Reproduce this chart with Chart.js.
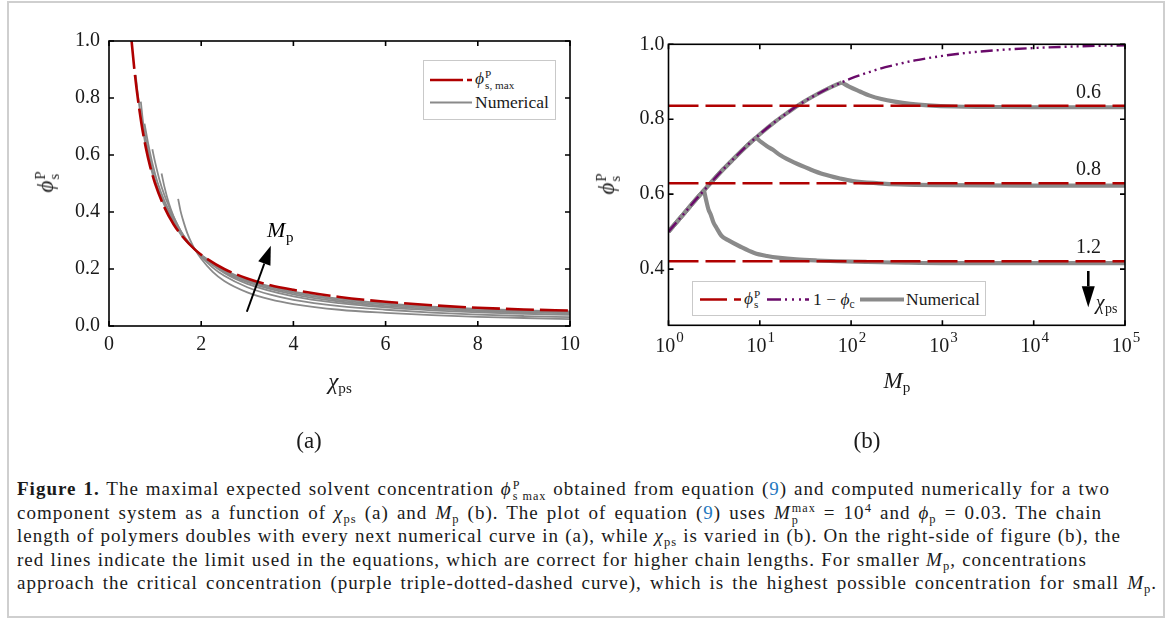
<!DOCTYPE html>
<html>
<head>
<meta charset="utf-8">
<script src="https://cdn.jsdelivr.net/npm/chart.js@4.4.1/dist/chart.umd.min.js"></script>
<style>
  html, body { margin: 0; padding: 0; background: #fff; }
  body { width: 1170px; height: 619px; position: relative; overflow: hidden; font-family: 'Liberation Serif', 'DejaVu Serif', serif; color: #1a1a1a; }
  .frame { position: absolute; left: 7px; top: 1px; width: 1158px; height: 617px; border: 2px solid #cfcfcf; box-sizing: border-box; }
  canvas { position: absolute; }
  #chartA { left: 0; top: 0; }
  #chartB { left: 590px; top: 0; }
  .lbl { position: absolute; white-space: nowrap; line-height: 1; transform: translate(-50%, -50%); }
  .rot { transform: translate(-50%, -50%) rotate(-90deg); }
  .ax { font-size: 23px; }
  .panel { font-size: 23px; }
  i { font-style: italic; }
  .sb { font-size: 66%; vertical-align: -0.28em; line-height: 0; }
  .sp { font-size: 66%; vertical-align: 0.55em; line-height: 0; }
  .ss { display: inline-block; vertical-align: -0.42em; font-size: 64%; line-height: 0.95; margin-left: 1px; }
  .ss span { display: block; }
  .legend { position: absolute; background: #fff; border: 1px solid #c9c9c9; box-sizing: border-box; font-size: 17.5px; }
  .legend .item { position: absolute; white-space: nowrap; line-height: 1; transform: translateY(-50%); }
  .legend svg { position: absolute; left: 0; top: 0; overflow: visible; }
  .caption { position: absolute; left: 17px; top: 0; font-size: 19px; letter-spacing: 1px; }
  .caption .ln { position: absolute; left: 0; white-space: nowrap; text-align: justify; text-align-last: justify; line-height: 20px; }
  .ref { color: #1f78c0; }
</style>
</head>
<body>
<div class="frame"></div>
<canvas id="chartA" width="600" height="370"></canvas>
<canvas id="chartB" width="580" height="370"></canvas>

<!-- axis titles -->
<div class="lbl rot ax" style="left:48px; top:182px;"><i>ϕ</i><span class="ss"><span>P</span><span>s</span></span></div>
<div class="lbl ax" style="left:340px; top:381px;"><i>χ</i><span class="sb">ps</span></div>
<div class="lbl rot ax" style="left:609px; top:184px;"><i>ϕ</i><span class="ss"><span>P</span><span>s</span></span></div>
<div class="lbl ax" style="left:897px; top:380px;"><i>M</i><span class="sb">p</span></div>
<div class="lbl panel" style="left:309px; top:440px;">(a)</div>
<div class="lbl panel" style="left:867px; top:440px;">(b)</div>

<!-- legend, panel (a) -->
<div class="legend" style="left:423px; top:60px; width:133px; height:60px;">
  <svg width="133" height="60">
    <line x1="6" y1="19" x2="48" y2="19" stroke="#b00000" stroke-width="2.6" stroke-dasharray="33 4"/>
    <line x1="6" y1="41.5" x2="48" y2="41.5" stroke="#8a8a8a" stroke-width="2"/>
  </svg>
  <div class="item" style="left:51px; top:19px;"><i>ϕ</i><span class="ss"><span>P</span><span>s, max</span></span></div>
  <div class="item" style="left:51px; top:41.5px;">Numerical</div>
</div>

<!-- legend, panel (b) -->
<div class="legend" style="left:692px; top:281px; width:294px; height:35px;">
  <svg width="294" height="35">
    <line x1="7" y1="17.5" x2="48" y2="17.5" stroke="#b00000" stroke-width="2.6" stroke-dasharray="27 7"/>
    <line x1="74" y1="17.5" x2="116" y2="17.5" stroke="#6a0a6a" stroke-width="2.6" stroke-dasharray="14 4 2 5 2 5 2 4"/>
    <line x1="167" y1="17.5" x2="211" y2="17.5" stroke="#8a8a8a" stroke-width="4.2"/>
  </svg>
  <div class="item" style="left:51px; top:17.5px;"><i>ϕ</i><span class="ss"><span>P</span><span>s</span></span></div>
  <div class="item" style="left:120px; top:17.5px;">1 − <i>ϕ</i><span class="sb">c</span></div>
  <div class="item" style="left:213px; top:17.5px;">Numerical</div>
</div>

<div class="caption">
  <div class="ln" style="top:479px; width:1093px;"><b>Figure 1.</b> The maximal expected solvent concentration <i>ϕ</i><span class="ss"><span>P</span><span>s max</span></span> obtained from equation (<span class="ref">9</span>) and computed numerically for a two</div>
  <div class="ln" style="top:502.5px; width:1085px;">component system as a function of <i>χ</i><span class="sb">ps</span> (a) and <i>M</i><span class="sb">p</span> (b). The plot of equation (<span class="ref">9</span>) uses <i>M</i><span class="ss"><span>max</span><span>p</span></span> = 10<span class="sp">4</span> and <i>ϕ</i><span class="sb">p</span> = 0.03. The chain</div>
  <div class="ln" style="top:526px; width:1104px;">length of polymers doubles with every next numerical curve in (a), while <i>χ</i><span class="sb">ps</span> is varied in (b). On the right-side of figure (b), the</div>
  <div class="ln" style="top:549.5px; width:1070px;">red lines indicate the limit used in the equations, which are correct for higher chain lengths. For smaller <i>M</i><span class="sb">p</span>, concentrations</div>
  <div class="ln" style="top:573px; width:1140px;">approach the critical concentration (purple triple-dotted-dashed curve), which is the highest possible concentration for small <i>M</i><span class="sb">p</span>.</div>
</div>

<script>
// ---------- panel (a): phi_s^P against chi_ps ----------
const chiTicks = [0, 2, 4, 6, 8, 10];
const phiTicksA = [0, 0.2, 0.4, 0.6, 0.8, 1.0];

// analytic limit phi_s,max
const limitChi = [0.49, 0.55, 0.6, 0.7, 0.8, 0.9, 1.0, 1.2, 1.4, 1.6, 1.87, 2.0, 2.5, 3, 3.5, 4, 5, 6, 7, 8, 9, 10];
const limitPhi = [1.0, 0.9, 0.83, 0.714, 0.625, 0.555, 0.5, 0.417, 0.357, 0.313, 0.267, 0.25, 0.2, 0.167, 0.143, 0.127, 0.102, 0.085, 0.073, 0.064, 0.058, 0.054];

// numerical curves, chain length doubling from curve to curve
const numChi2 = [1.5, 1.55, 1.6, 1.7, 1.8, 1.87, 2.0, 2.25, 2.5, 3, 3.5, 4, 5, 6, 7, 8, 9, 10];
const numPhi2 = [0.446, 0.405, 0.375, 0.325, 0.288, 0.267, 0.236, 0.19, 0.158, 0.118, 0.093, 0.077, 0.057, 0.046, 0.038, 0.032, 0.028, 0.024];
const numChi4 = [1.14, 1.2, 1.3, 1.4, 1.5, 1.6, 1.7, 1.87, 2.0, 2.25, 2.5, 3, 3.5, 4, 5, 6, 7, 8, 9, 10];
const numPhi4 = [0.535, 0.49, 0.43, 0.385, 0.35, 0.32, 0.295, 0.267, 0.243, 0.205, 0.176, 0.136, 0.11, 0.092, 0.07, 0.057, 0.047, 0.04, 0.035, 0.031];
const numChi8 = [0.94, 1.0, 1.1, 1.2, 1.3, 1.4, 1.6, 1.87, 2.0, 2.5, 3, 4, 5, 6, 7, 8, 9, 10];
const numPhi8 = [0.62, 0.575, 0.51, 0.46, 0.42, 0.383, 0.322, 0.267, 0.246, 0.186, 0.148, 0.104, 0.08, 0.065, 0.055, 0.048, 0.043, 0.039];
const numChi16 = [0.77, 0.85, 0.95, 1.05, 1.2, 1.4, 1.6, 1.87, 2.0, 2.5, 3, 4, 5, 6, 7, 8, 9, 10];
const numPhi16 = [0.71, 0.64, 0.565, 0.505, 0.44, 0.375, 0.32, 0.267, 0.247, 0.19, 0.154, 0.111, 0.086, 0.07, 0.06, 0.052, 0.048, 0.044];
const numChi32 = [0.69, 0.75, 0.85, 1.0, 1.2, 1.4, 1.6, 1.87, 2.0, 2.5, 3, 4, 5, 6, 7, 8, 9, 10];
const numPhi32 = [0.787, 0.70, 0.615, 0.512, 0.43, 0.368, 0.315, 0.267, 0.248, 0.194, 0.158, 0.116, 0.091, 0.075, 0.064, 0.056, 0.052, 0.048];
const numChi64 = [0.58, 0.62, 0.7, 0.8, 0.9, 1.0, 1.2, 1.4, 1.6, 1.87, 2.0, 2.5, 3, 4, 5, 6, 7, 8, 9, 10];
const numPhi64 = [0.88, 0.82, 0.725, 0.63, 0.56, 0.505, 0.425, 0.362, 0.312, 0.267, 0.249, 0.197, 0.162, 0.121, 0.096, 0.079, 0.068, 0.06, 0.055, 0.051];

// ---------- panel (b): phi_s^P against M_p ----------
const mpTicks = [1, 10, 100, 1000, 10000, 100000];
const phiTicksB = [0.4, 0.6, 0.8, 1.0];

// 1 - phi_c
const critMp = [1, 1.5, 2, 3, 4, 5, 7, 10, 15, 20, 30, 50, 70, 100, 150, 200, 300, 500, 1000, 2000, 5000, 10000, 20000, 50000, 100000];
const critPhi = [0.5, 0.55, 0.586, 0.634, 0.667, 0.691, 0.726, 0.76, 0.795, 0.817, 0.846, 0.876, 0.893, 0.909, 0.924, 0.934, 0.945, 0.957, 0.969, 0.978, 0.986, 0.99, 0.993, 0.996, 0.997];

// large-chain limits for chi_ps = 0.6, 0.8, 1.2
const chiLabels = ['0.6', '0.8', '1.2'];
const limitLevels = [0.836, 0.629, 0.421];

// numerical: rising branch along 1 - phi_c, then decay towards the limit
const riseMp06 = [1, 1.5, 2, 3, 4, 5, 7, 10, 15, 20, 30, 50, 70, 79];
const risePhi06 = [0.5, 0.55, 0.586, 0.634, 0.667, 0.691, 0.726, 0.76, 0.795, 0.817, 0.846, 0.876, 0.893, 0.898];
const decayMp06 = [79, 95, 125, 160, 215, 300, 445, 700, 1350, 3000, 10000, 100000];
const decayPhi06 = [0.898, 0.887, 0.874, 0.863, 0.854, 0.847, 0.841, 0.837, 0.834, 0.833, 0.832, 0.832];

const riseMp08 = [1, 1.5, 2, 3, 4, 5, 7, 9.1];
const risePhi08 = [0.5, 0.55, 0.586, 0.634, 0.667, 0.691, 0.726, 0.751];
const decayMp08 = [9.1, 10.5, 12, 13.8, 17, 24, 35, 50, 75, 104, 200, 340, 1000, 10000, 100000];
const decayPhi08 = [0.751, 0.738, 0.728, 0.719, 0.703, 0.684, 0.667, 0.653, 0.642, 0.635, 0.629, 0.626, 0.624, 0.623, 0.623];

const riseMp12 = [1, 1.5, 2, 2.45];
const risePhi12 = [0.5, 0.55, 0.586, 0.61];
const decayMp12 = [2.45, 2.6, 2.75, 2.9, 3.1, 3.34, 3.8, 4.6, 6, 8.7, 12, 16.6, 25, 42, 70, 150, 400, 1000, 10000, 100000];
const decayPhi12 = [0.61, 0.581, 0.558, 0.546, 0.525, 0.511, 0.489, 0.476, 0.461, 0.443, 0.435, 0.43, 0.426, 0.423, 0.421, 0.419, 0.417, 0.416, 0.416, 0.416];

const RED = '#b00000';
const PURPLE = '#6a0a6a';
const GREY = '#8a8a8a';
const SERIF = "'Liberation Serif', 'DejaVu Serif', serif";
const TICK_FONT = { family: SERIF, size: 20 };

const pts = (xs, ys) => xs.map((x, i) => ({ x, y: ys[i] }));

function line(data, color, width, dash, order) {
    return {
        data,
        borderColor: color,
        borderWidth: width,
        borderDash: dash || [],
        pointRadius: 0,
        fill: false,
        cubicInterpolationMode: 'monotone',
        order,
    };
}

// closed black frame with short inward ticks on every side
const boxTicks = {
    id: 'boxTicks',
    afterDatasetsDraw(chart) {
        const { ctx, chartArea: a, scales: { x, y } } = chart;
        const len = 5;
        ctx.save();
        ctx.strokeStyle = '#000';
        ctx.lineWidth = 1.6;
        ctx.strokeRect(a.left, a.top, a.right - a.left, a.bottom - a.top);
        ctx.beginPath();
        x.ticks.forEach(t => {
            const px = x.getPixelForValue(t.value);
            ctx.moveTo(px, a.bottom); ctx.lineTo(px, a.bottom - len);
            ctx.moveTo(px, a.top); ctx.lineTo(px, a.top + len);
        });
        y.ticks.forEach(t => {
            const py = y.getPixelForValue(t.value);
            ctx.moveTo(a.left, py); ctx.lineTo(a.left + len, py);
            ctx.moveTo(a.right, py); ctx.lineTo(a.right - len, py);
        });
        ctx.stroke();
        ctx.restore();
    }
};

function drawArrow(ctx, x0, y0, x1, y1, headLen, headHalf) {
    const ang = Math.atan2(y1 - y0, x1 - x0);
    const bx = x1 - headLen * Math.cos(ang);
    const by = y1 - headLen * Math.sin(ang);
    ctx.beginPath();
    ctx.moveTo(x0, y0);
    ctx.lineTo(bx, by);
    ctx.stroke();
    ctx.beginPath();
    ctx.moveTo(x1, y1);
    ctx.lineTo(bx + headHalf * Math.sin(ang), by - headHalf * Math.cos(ang));
    ctx.lineTo(bx - headHalf * Math.sin(ang), by + headHalf * Math.cos(ang));
    ctx.closePath();
    ctx.fill();
}

// italic symbol with a roman subscript
function drawSymbol(ctx, sym, sub, x, y, size) {
    ctx.font = `italic ${size}px ${SERIF}`;
    ctx.fillText(sym, x, y);
    const w = ctx.measureText(sym).width;
    ctx.font = `${Math.round(size * 0.68)}px ${SERIF}`;
    ctx.fillText(sub, x + w + 0.5, y + size * 0.22);
}

function fixedTicks(values) {
    return s => { s.ticks = values.map(v => ({ value: v })); };
}

// ---------- chart (a) ----------
const notesA = {
    id: 'notesA',
    afterDatasetsDraw(chart) {
        const { ctx, scales: { x, y } } = chart;
        ctx.save();
        ctx.fillStyle = '#000';
        ctx.strokeStyle = '#000';
        ctx.lineWidth = 2;
        drawArrow(ctx, x.getPixelForValue(2.99), y.getPixelForValue(0.05),
            x.getPixelForValue(3.51), y.getPixelForValue(0.282), 19, 6.5);
        ctx.textBaseline = 'alphabetic';
        drawSymbol(ctx, 'M', 'p', x.getPixelForValue(3.43), y.getPixelForValue(0.313), 22);
        ctx.restore();
    }
};

new Chart(document.getElementById('chartA'), {
    type: 'line',
    data: {
        datasets: [
            line(pts(limitChi, limitPhi), RED, 2.6, [28, 6], 0),
            line(pts(numChi64, numPhi64), GREY, 1.8, null, 1),
            line(pts(numChi32, numPhi32), GREY, 1.8, null, 2),
            line(pts(numChi16, numPhi16), GREY, 1.8, null, 3),
            line(pts(numChi8, numPhi8), GREY, 1.8, null, 4),
            line(pts(numChi4, numPhi4), GREY, 1.8, null, 5),
            line(pts(numChi2, numPhi2), GREY, 1.8, null, 6),
        ]
    },
    options: {
        responsive: false,
        animation: false,
        events: [],
        layout: { padding: { left: 50, top: 41, right: 30, bottom: 10 } },
        plugins: { legend: { display: false }, tooltip: { enabled: false } },
        scales: {
            x: {
                type: 'linear', min: 0, max: 10,
                afterBuildTicks: fixedTicks(chiTicks),
                afterFit: s => { s.height = 34; },
                grid: { display: false, drawTicks: false },
                border: { display: false },
                ticks: { font: TICK_FONT, color: '#1a1a1a', padding: 7, maxRotation: 0, autoSkip: false, callback: v => String(v) }
            },
            y: {
                type: 'linear', min: 0, max: 1,
                afterBuildTicks: fixedTicks(phiTicksA),
                afterFit: s => { s.width = 59; },
                grid: { display: false, drawTicks: false },
                border: { display: false },
                ticks: { font: TICK_FONT, color: '#1a1a1a', padding: 9, autoSkip: false, callback: v => v.toFixed(1) }
            }
        }
    },
    plugins: [boxTicks, notesA]
});

// ---------- chart (b) ----------
const notesB = {
    id: 'notesB',
    afterDatasetsDraw(chart) {
        const { ctx, chartArea: a, scales: { x, y } } = chart;
        ctx.save();
        ctx.fillStyle = '#1a1a1a';
        ctx.strokeStyle = '#000';
        // chi_ps value over each limit line
        ctx.font = `20px ${SERIF}`;
        ctx.textAlign = 'center';
        ctx.textBaseline = 'alphabetic';
        const lx = x.getPixelForValue(39800);
        chiLabels.forEach((t, i) => ctx.fillText(t, lx, y.getPixelForValue(limitLevels[i]) - 8));
        // arrow: increasing chi_ps
        ctx.fillStyle = '#000';
        ctx.lineWidth = 2.6;
        drawArrow(ctx, x.getPixelForValue(39600), y.getPixelForValue(0.395),
            x.getPixelForValue(39600), y.getPixelForValue(0.298), 21, 6.5);
        ctx.textAlign = 'left';
        ctx.fillStyle = '#1a1a1a';
        drawSymbol(ctx, 'χ', 'ps', x.getPixelForValue(47900), y.getPixelForValue(0.294), 20);
        // decade labels 10^k under the axis
        mpTicks.forEach(v => {
            const k = String(Math.round(Math.log10(v)));
            ctx.font = `20px ${SERIF}`;
            const wb = ctx.measureText('10').width;
            ctx.font = `15px ${SERIF}`;
            const we = ctx.measureText(k).width;
            const left = x.getPixelForValue(v) + 1 - (wb + we + 1) / 2;
            ctx.font = `20px ${SERIF}`;
            ctx.fillText('10', left, a.bottom + 26.5);
            ctx.font = `15px ${SERIF}`;
            ctx.fillText(k, left + wb + 1, a.bottom + 17);
        });
        ctx.restore();
    }
};

const limitDatasets = limitLevels.map(v => line(pts([1, 100000], [v, v]), RED, 2.6, [30, 7], 0));

new Chart(document.getElementById('chartB'), {
    type: 'line',
    data: {
        datasets: [
            ...limitDatasets,
            line(pts(critMp, critPhi), PURPLE, 2.4, [12, 4, 2, 4, 2, 4, 2, 4], 1),
            line(pts(riseMp06, risePhi06), GREY, 4.2, null, 2),
            line(pts(decayMp06, decayPhi06), GREY, 4.2, null, 2),
            line(pts(riseMp08, risePhi08), GREY, 4.2, null, 2),
            line(pts(decayMp08, decayPhi08), GREY, 4.2, null, 2),
            line(pts(riseMp12, risePhi12), GREY, 4.2, null, 2),
            line(pts(decayMp12, decayPhi12), GREY, 4.2, null, 2),
        ]
    },
    options: {
        responsive: false,
        animation: false,
        events: [],
        layout: { padding: { left: 20, top: 44.3, right: 45, bottom: 10.7 } },
        plugins: { legend: { display: false }, tooltip: { enabled: false } },
        scales: {
            x: {
                type: 'logarithmic', min: 1, max: 100000,
                afterBuildTicks: fixedTicks(mpTicks),
                afterFit: s => { s.height = 34; },
                grid: { display: false, drawTicks: false },
                border: { display: false },
                ticks: { display: false }
            },
            y: {
                type: 'linear', min: 0.25, max: 1,
                afterBuildTicks: fixedTicks(phiTicksB),
                afterFit: s => { s.width = 58.5; },
                grid: { display: false, drawTicks: false },
                border: { display: false },
                ticks: { font: TICK_FONT, color: '#1a1a1a', padding: 4, autoSkip: false, callback: v => v.toFixed(1) }
            }
        }
    },
    plugins: [boxTicks, notesB]
});
</script>
</body>
</html>
